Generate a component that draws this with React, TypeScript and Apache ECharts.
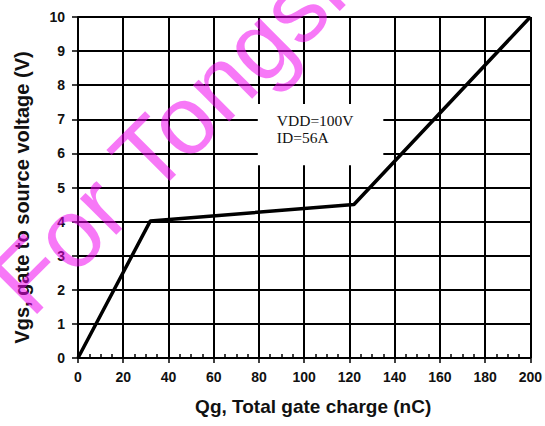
import React, { useEffect, useRef } from "react";
import * as echarts from "echarts";

const xTicks = [0, 20, 40, 60, 80, 100, 120, 140, 160, 180, 200];
const yTicks = [0, 1, 2, 3, 4, 5, 6, 7, 8, 9, 10];
const qg = [0, 32, 122, 200];
const vgs = [0, 4.02, 4.5, 10];
const noteLines = ["VDD=100V", "ID=56A"];
const noteBoxX = [79.5, 135];
const noteBoxY = [5.65, 7.45];
const watermark = "For Tongsheng";

export default function App() {
  const ref = useRef<HTMLDivElement>(null);
  useEffect(() => {
    if (!ref.current) return;
    const chart = echarts.init(ref.current, null, { renderer: "svg" });
    const black = "#000";
    chart.setOption({
      animation: false,
      backgroundColor: "#fff",
      grid: { left: 78, right: 13, top: 17, bottom: 68 },
      xAxis: {
        type: "value",
        min: xTicks[0],
        max: xTicks[xTicks.length - 1],
        interval: 20,
        name: "Qg, Total gate charge (nC)",
        nameLocation: "middle",
        nameGap: 39,
        nameTextStyle: {
          fontFamily: "Liberation Sans",
          fontWeight: "bold",
          fontSize: 19,
          color: "#111",
          padding: [0, 0, 0, 18],
        },
        axisLine: { show: true, onZero: false, lineStyle: { color: black, width: 2 } },
        axisTick: { show: true, length: 5, lineStyle: { color: black, width: 1.5 } },
        minorTick: { show: true, splitNumber: 4, length: -4, lineStyle: { color: black, width: 1.5 } },
        axisLabel: {
          margin: 12,
          fontFamily: "Liberation Sans",
          fontWeight: "bold",
          fontSize: 14,
          color: "#111",
        },
        splitLine: { show: true, lineStyle: { color: black, width: 2 } },
      },
      yAxis: {
        type: "value",
        min: yTicks[0],
        max: yTicks[yTicks.length - 1],
        interval: 1,
        name: "Vgs, gate to source voltage (V)",
        nameLocation: "middle",
        nameRotate: 90,
        nameGap: 46,
        nameTextStyle: {
          fontFamily: "Liberation Sans",
          fontWeight: "bold",
          fontSize: 20,
          color: "#111",
          padding: [0, 20, 0, 0],
        },
        axisLine: { show: true, lineStyle: { color: black, width: 2 } },
        axisTick: { show: true, length: 6, lineStyle: { color: black, width: 1.5 } },
        axisLabel: {
          margin: 13,
          fontFamily: "Liberation Sans",
          fontWeight: "bold",
          fontSize: 14,
          color: "#111",
        },
        splitLine: { show: true, lineStyle: { color: black, width: 2 } },
      },
      series: [
        {
          type: "line",
          data: qg.map((q, i) => [q, vgs[i]]),
          symbol: "none",
          lineStyle: { color: black, width: 3.5 },
          z: 3,
          markArea: {
            silent: true,
            itemStyle: { color: "#fff", opacity: 1 },
            label: {
              show: true,
              position: [19, 8],
              align: "left",
              verticalAlign: "top",
              fontFamily: "Liberation Serif",
              fontSize: 15.5,
              lineHeight: 17,
              color: "#111",
              formatter: noteLines.join("\n"),
            },
            data: [[{ coord: [noteBoxX[0], noteBoxY[1]] }, { coord: [noteBoxX[1], noteBoxY[0]] }]],
          },
        },
      ],
      graphic: [
        {
          type: "text",
          x: 42,
          y: 330,
          rotation: Math.PI / 4,
          z: 100,
          silent: true,
          style: {
            text: watermark,
            fontFamily: "Liberation Sans",
            fontSize: 97,
            fill: "rgba(240,0,240,0.53)",
            textAlign: "left",
            textVerticalAlign: "bottom",
          },
        },
      ],
    });
    return () => chart.dispose();
  }, []);
  return (
    <div
      ref={ref}
      style={{ position: "fixed", left: 0, top: 0, width: 545, height: 426 }}
    />
  );
}
